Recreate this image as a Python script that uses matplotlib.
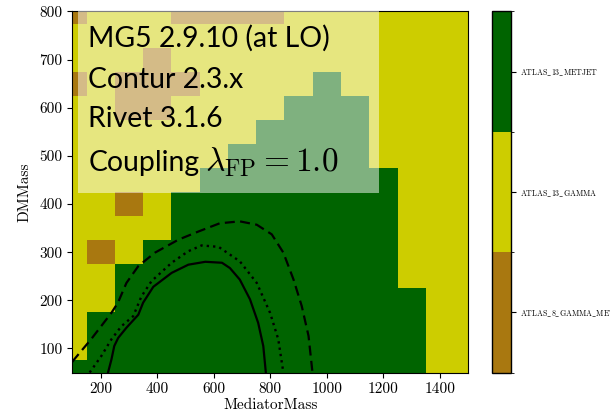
import matplotlib
matplotlib.use("Agg")
import matplotlib.pyplot as plt
import numpy as np
from matplotlib.colors import ListedColormap, BoundaryNorm
from matplotlib.patches import Rectangle

plt.rcParams["font.family"] = "cmr10"
plt.rcParams["mathtext.fontset"] = "cm"
plt.rcParams["axes.unicode_minus"] = False
plt.rcParams["axes.formatter.use_mathtext"] = True

# Scan grid (cell centres)
mediator_mass = [100, 200, 300, 400, 500, 600, 700, 800, 900, 1000, 1100, 1200, 1300, 1400, 1500]
dm_mass = [50, 100, 150, 200, 250, 300, 350, 400, 450, 500, 550, 600, 650, 700, 750, 800]

# Most sensitive analysis pool per point (index into pools), one row per DMMass value
pools = ["ATLAS_8_GAMMA_MET", "ATLAS_13_GAMMA", "ATLAS_13_METJET"]
pool_colors = ["#a97810", "#cdcd00", "#006400"]
dominant_pool = [
    [2, 2, 2, 2, 2, 2, 2, 2, 2, 2, 2, 2, 2, 1, 1],  # 50
    [1, 2, 2, 2, 2, 2, 2, 2, 2, 2, 2, 2, 2, 1, 1],  # 100
    [1, 2, 2, 2, 2, 2, 2, 2, 2, 2, 2, 2, 2, 1, 1],  # 150
    [1, 1, 2, 2, 2, 2, 2, 2, 2, 2, 2, 2, 2, 1, 1],  # 200
    [1, 1, 2, 2, 2, 2, 2, 2, 2, 2, 2, 2, 1, 1, 1],  # 250
    [1, 0, 1, 2, 2, 2, 2, 2, 2, 2, 2, 2, 1, 1, 1],  # 300
    [1, 1, 1, 1, 2, 2, 2, 2, 2, 2, 2, 2, 1, 1, 1],  # 350
    [1, 1, 0, 1, 2, 2, 2, 2, 2, 2, 2, 2, 1, 1, 1],  # 400
    [1, 1, 1, 1, 1, 2, 2, 2, 2, 2, 2, 2, 1, 1, 1],  # 450
    [1, 1, 1, 1, 1, 1, 2, 2, 2, 2, 2, 1, 1, 1, 1],  # 500
    [1, 1, 1, 1, 1, 1, 1, 2, 2, 2, 2, 1, 1, 1, 1],  # 550
    [1, 1, 0, 0, 1, 1, 1, 1, 2, 2, 2, 1, 1, 1, 1],  # 600
    [0, 1, 0, 0, 0, 1, 1, 1, 1, 2, 1, 1, 1, 1, 1],  # 650
    [1, 1, 1, 0, 1, 1, 1, 1, 1, 1, 1, 1, 1, 1, 1],  # 700
    [1, 1, 1, 1, 1, 1, 1, 1, 1, 1, 1, 1, 1, 1, 1],  # 750
    [0, 1, 1, 1, 0, 0, 0, 0, 1, 1, 1, 1, 1, 1, 1],  # 800
]

# Exclusion contours
solid_x = [226, 238, 248, 262, 291, 333, 350, 386, 451, 510, 570, 629, 657, 692, 728, 757, 775, 784]
solid_y = [50, 77, 105, 122, 143, 170, 195, 228, 257, 274, 280, 278, 267, 243, 202, 153, 105, 50]

dotted_x = [161, 202, 238, 273, 315, 344, 380, 451, 510, 557, 617, 692, 752, 799, 828, 846]
dotted_y = [50, 84, 119, 146, 167, 208, 240, 278, 302, 314, 311, 281, 236, 174, 119, 50]

dashed_x = [100, 106, 166, 238, 261, 291, 333, 392, 475, 546, 621, 692, 752, 805, 846, 882, 911, 935, 949]
dashed_y = [72, 77, 119, 174, 195, 236, 271, 299, 326, 343, 360, 364, 357, 337, 299, 243, 188, 126, 50]

info_lines = ["MG5 2.9.10 (at LO)", "Contur 2.3.x", "Rivet 3.1.6", "Coupling"]
coupling_label = r"$\lambda_{\mathrm{FP}} = 1.0$"

fig = plt.figure(figsize=(6.1, 4.15), dpi=100)
ax = fig.add_axes([0.1187, 0.1024, 0.6490, 0.8699])
cax = fig.add_axes([0.8070, 0.1024, 0.0302, 0.8699])

cmap = ListedColormap(pool_colors)
norm = BoundaryNorm([-0.5, 0.5, 1.5, 2.5], cmap.N)
mesh = ax.pcolormesh(mediator_mass, dm_mass, np.array(dominant_pool), cmap=cmap, norm=norm,
                     shading="nearest", antialiased=False, linewidth=0)

ax.plot(solid_x, solid_y, color="black", lw=1.6, ls="-", zorder=3)
ax.plot(dotted_x, dotted_y, color="black", lw=1.7, ls=(0, (1, 1.7)), zorder=3)
ax.plot(dashed_x, dashed_y, color="black", lw=1.6, ls=(0, (4.5, 2.4)), zorder=3)

ax.set_xlim(100, 1500)
ax.set_ylim(50, 800)
ax.set_xticks([200, 400, 600, 800, 1000, 1200, 1400])
ax.set_yticks([100, 200, 300, 400, 500, 600, 700, 800])
ax.set_xticklabels([str(v) for v in [200, 400, 600, 800, 1000, 1200, 1400]])
ax.set_yticklabels([str(v) for v in [100, 200, 300, 400, 500, 600, 700, 800]])
ax.tick_params(labelsize=11)
ax.set_xlabel("MediatorMass", fontsize=11, labelpad=2)
ax.set_ylabel("DMMass", fontsize=11, labelpad=6)

# Translucent panel behind the run information
ax.add_patch(Rectangle((0.014, 0.498), 0.76, 0.502, transform=ax.transAxes,
                       facecolor="white", alpha=0.5, edgecolor="none", zorder=4))
baselines = [0.9024, 0.787, 0.6787, 0.5582]
for line, yb in zip(info_lines, baselines):
    ax.text(0.0405, yb, line, transform=ax.transAxes, family="Lato", fontsize=20.4,
            va="baseline", ha="left", zorder=5)
ax.text(0.335, baselines[-1], coupling_label, transform=ax.transAxes, fontsize=24,
        va="baseline", ha="left", zorder=5)

cb = fig.colorbar(mesh, cax=cax, ticks=[0, 1, 2])
cb.set_ticklabels([r"$\mathrm{" + p.replace("_", r"\_") + "}$" for p in pools])
cax.tick_params(labelsize=5.7)
cb.outline.set_linewidth(1.0)

fig.savefig("out.png", dpi=100)
